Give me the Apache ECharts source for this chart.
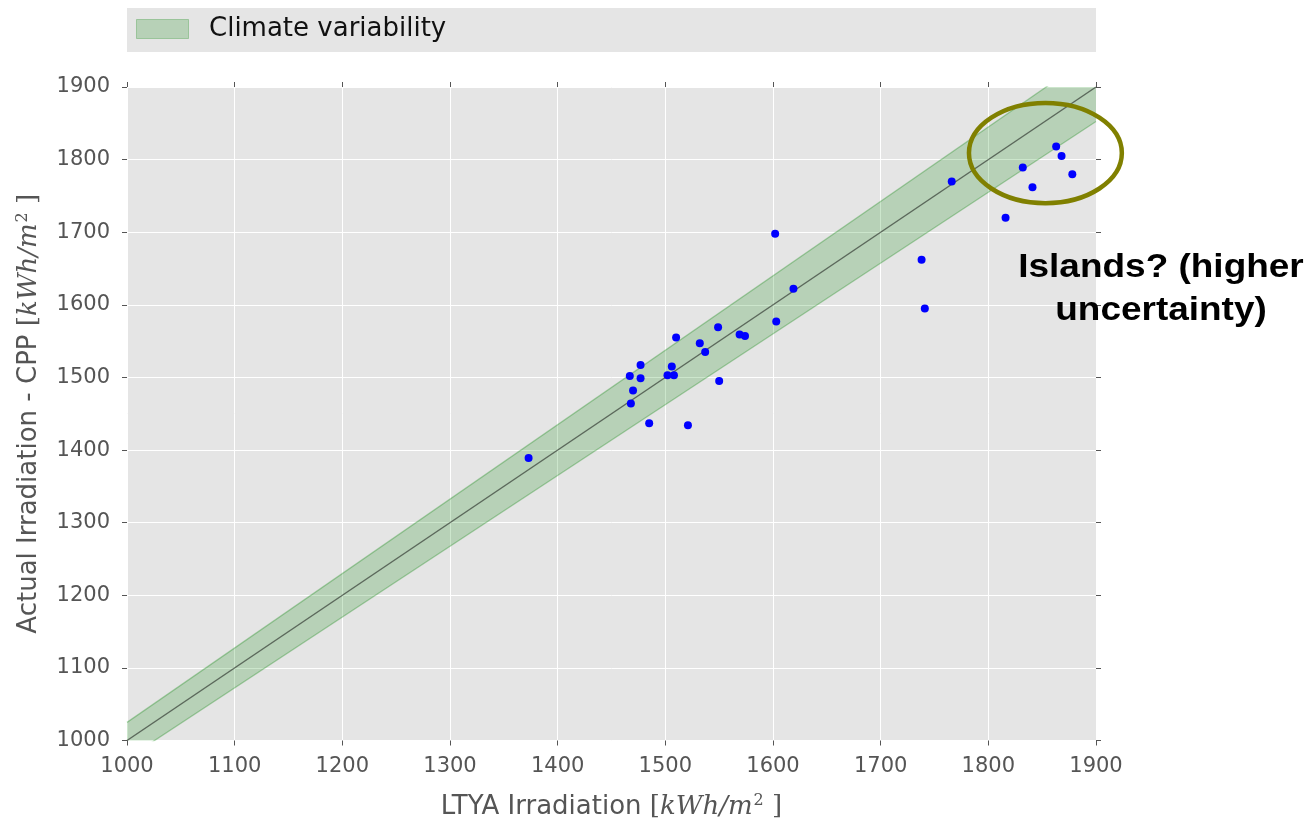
<!DOCTYPE html>
<html>
<head>
<meta charset="utf-8">
<script src="https://cdn.jsdelivr.net/npm/echarts@6/dist/echarts.min.js"></script>
<style>html,body{margin:0;padding:0;background:#fff}#c{width:1312px;height:825px}</style>
</head>
<body>
<div id="c"></div>
<script>
// Scatter points: LTYA irradiation (x) vs actual irradiation CPP (y)
const ltya = [1373,1467,1477,1477,1470,1468,1485,1502,1508,1506,1510,1521,1532,1537,1549,1550,1569,1574,1603,1602,1619,1766,1738,1741,1816,1832,1841,1863,1868,1878];
const actual = [1389,1502,1517,1499,1482,1464,1437,1503,1503,1515,1555,1434,1547,1535,1569,1495,1559,1557,1577,1698,1622,1770,1662,1595,1720,1789,1762,1818,1805,1780];
// 1:1 line and climate variability band (±2.5%)
const bandX = [1000, 1900];
const bandCenter = [1000, 1900];
const bandLower = [975, 1852.5];
const bandUpper = [1025, 1947.5];
const ticks = [1000,1100,1200,1300,1400,1500,1600,1700,1800,1900];
// Annotation ellipse: center x, center y, radius x, radius y (data units)
const islandsEllipse = [[1853, 1809, 71, 69]];

const chart = echarts.init(document.getElementById('c'));
const FONT = 'DejaVu Sans';
const axisCommon = {
  min: ticks[0], max: ticks[ticks.length - 1], interval: ticks[1] - ticks[0],
  axisLine: {show: false},
  axisTick: {show: true, inside: false, length: 5, lineStyle: {color: '#555', width: 1}}
};
const titleRich = {
  n: {fontFamily: FONT, fontSize: 26, color: '#555'},
  b: {fontFamily: 'DejaVu Serif', fontSize: 26, color: '#555'},
  i: {fontFamily: 'DejaVu Serif', fontStyle: 'italic', fontSize: 26, color: '#555'},
  s: {fontFamily: 'DejaVu Serif', fontSize: 16, color: '#555', padding: [0, 0, 13, 1]}
};
const fmt = v => String(v);
chart.setOption({
  animation: false,
  grid: {left: 127, right: 216, top: 87, bottom: 82, show: true, backgroundColor: '#e5e5e5', borderWidth: 0},
  xAxis: [
    Object.assign({}, axisCommon, {
      type: 'value', position: 'bottom',
      axisLabel: {color: '#555', fontFamily: FONT, fontSize: 21, margin: 16, formatter: fmt},
      splitLine: {show: true, lineStyle: {color: '#fff', width: 1}},
      name: '{n|LTYA Irradiation }{b|[}{i|kWh/m}{s|2}{b| ]}',
      nameLocation: 'middle', nameGap: 52,
      nameTextStyle: {rich: titleRich}
    }),
    Object.assign({}, axisCommon, {
      type: 'value', position: 'top', axisLabel: {show: false}, splitLine: {show: false}
    })
  ],
  yAxis: [
    Object.assign({}, axisCommon, {
      type: 'value', position: 'left',
      axisLabel: {color: '#555', fontFamily: FONT, fontSize: 21, margin: 17, formatter: fmt},
      splitLine: {show: true, lineStyle: {color: '#fff', width: 1}},
      name: '{n|Actual Irradiation - CPP }{b|[}{i|kWh/m}{s|2}{b| ]}',
      nameLocation: 'middle', nameGap: 83, nameRotate: 90,
      nameTextStyle: {rich: titleRich}
    }),
    Object.assign({}, axisCommon, {
      type: 'value', position: 'right', axisLabel: {show: false}, splitLine: {show: false}
    })
  ],
  series: [
    {
      name: 'Climate variability', type: 'custom', silent: true, clip: true, z: 1,
      data: [0],
      renderItem: function (params, api) {
        const pts = [];
        for (let i = 0; i < bandX.length; i++) pts.push(api.coord([bandX[i], bandUpper[i]]));
        for (let i = bandX.length - 1; i >= 0; i--) pts.push(api.coord([bandX[i], bandLower[i]]));
        return {
          type: 'polygon', shape: {points: pts},
          style: {fill: 'rgba(0,128,0,0.2)', stroke: 'none'}
        };
      }
    },
    {
      name: 'lowerEdge', type: 'line', symbol: 'none', silent: true,
      data: bandX.map((x, i) => [x, bandLower[i]]),
      lineStyle: {color: 'rgba(0,128,0,0.3)', width: 1.3}, z: 2
    },
    {
      name: 'upperEdge', type: 'line', symbol: 'none', silent: true,
      data: bandX.map((x, i) => [x, bandUpper[i]]),
      lineStyle: {color: 'rgba(0,128,0,0.3)', width: 1.3}, z: 2
    },
    {
      name: 'oneToOne', type: 'line', symbol: 'none', silent: true,
      data: bandX.map((x, i) => [x, bandCenter[i]]),
      lineStyle: {color: 'rgba(0,0,0,0.5)', width: 1.5}, z: 3
    },
    {
      name: 'points', type: 'scatter', symbolSize: 8,
      data: ltya.map((x, i) => [x, actual[i]]),
      itemStyle: {color: '#0000ff', opacity: 1},
      z: 4
    },
    {
      name: 'islands', type: 'custom', silent: true, clip: false, z: 5,
      data: islandsEllipse,
      renderItem: function (params, api) {
        const c = api.coord([api.value(0), api.value(1)]);
        const s = api.size([api.value(2), api.value(3)]);
        return {
          type: 'ellipse',
          shape: {cx: c[0], cy: c[1], rx: s[0], ry: s[1]},
          style: {fill: 'none', stroke: '#808000', lineWidth: 4.5}
        };
      }
    }
  ],
  graphic: [
    {type: 'rect', left: 127, top: 8, shape: {width: 969, height: 44}, style: {fill: '#e5e5e5'}, z: 0},
    {type: 'rect', left: 136, top: 19, shape: {width: 52, height: 19}, style: {fill: 'rgba(0,128,0,0.2)', stroke: 'rgba(0,128,0,0.25)', lineWidth: 1}, z: 1},
    {type: 'text', x: 209, y: 29, style: {text: 'Climate variability', font: '26px "DejaVu Sans"', fill: '#111', textVerticalAlign: 'middle'}, z: 1},
    {type: 'text', x: 1161, y: 268, scaleX: 1.12, style: {text: 'Islands? (higher', font: 'bold 33px "Liberation Sans"', fill: '#000', textAlign: 'center', textVerticalAlign: 'middle'}, z: 6},
    {type: 'text', x: 1161, y: 311, scaleX: 1.12, style: {text: 'uncertainty)', font: 'bold 33px "Liberation Sans"', fill: '#000', textAlign: 'center', textVerticalAlign: 'middle'}, z: 6}
  ]
});
</script>
</body>
</html>
